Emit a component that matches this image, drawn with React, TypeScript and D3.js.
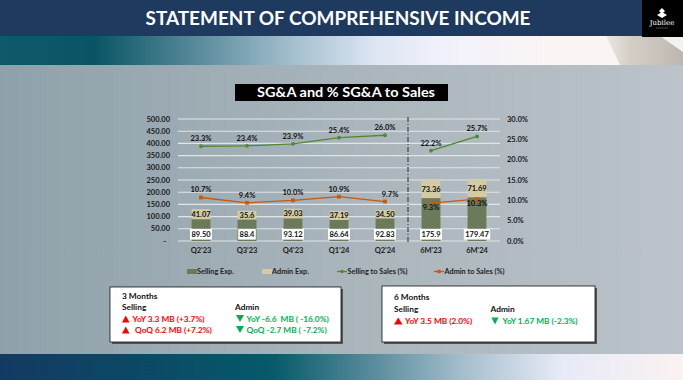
import React from "react";
import * as d3 from "d3";

const categories = ["Q2'23", "Q3'23", "Q4'23", "Q1'24", "Q2'24", "6M'23", "6M'24"];
const sellingExp = [89.5, 88.4, 93.12, 86.64, 92.83, 175.9, 179.47];
const sellingLabels = ["89.50", "88.4", "93.12", "86.64", "92.83", "175.9", "179.47"];
const adminExp = [41.07, 35.6, 39.03, 37.19, 34.5, 73.36, 71.69];
const adminLabels = ["41.07", "35.6", "39.03", "37.19", "34.50", "73.36", "71.69"];
const sellingPct = [23.3, 23.4, 23.9, 25.4, 26.0, 22.2, 25.7];
const adminPct = [10.7, 9.4, 10.0, 10.9, 9.7, 9.3, 10.3];
const lineSegments = [[0, 1, 2, 3, 4], [5, 6]];
const leftTicks = [0, 50, 100, 150, 200, 250, 300, 350, 400, 450, 500];
const rightTicks = [0, 5, 10, 15, 20, 25, 30];
const legendItems = ["Selling Exp.", "Admin Exp.", "Selling to Sales (%)", "Admin to Sales (%)"];

const C_SELL = "#6b7b5a";
const C_ADMIN = "#d3cca2";
const C_GLINE = "#4f8a2c";
const C_OLINE = "#c55a11";
const FONT = "Lato, 'Open Sans', sans-serif";

export default function App() {
  const x = d3.scaleBand<string>().domain(categories).range([178, 500]).paddingInner(0.59).paddingOuter(0.295);
  const y = d3.scaleLinear().domain([0, 500]).range([241, 119]);
  const yr = d3.scaleLinear().domain([0, 30]).range([241, 119]);
  const cx = (i: number) => (x(categories[i]) as number) + x.bandwidth() / 2;
  const line = d3.line<number>().x((i) => cx(i)).y((i) => yr(0) - 0);

  const gLine = d3.line<number>().x((i) => cx(i)).y((i) => yr(sellingPct[i]));
  const oLine = d3.line<number>().x((i) => cx(i)).y((i) => yr(adminPct[i]));
  void line;

  const dashX = (cx(4) + cx(5)) / 2;

  return (
    <svg width={683} height={380} style={{ position: "absolute", left: 0, top: 0 }} fontFamily={FONT}>
      <defs>
        <linearGradient id="bg" x1="0" x2="1" y1="0" y2="0">
          <stop offset="0" stopColor="#8ea1aa" />
          <stop offset="0.5" stopColor="#a9b4bb" />
          <stop offset="1" stopColor="#bcc3ca" />
        </linearGradient>
        <linearGradient id="band1" x1="0" x2="1" y1="0" y2="0">
          <stop offset="0" stopColor="#0e5a6a" />
          <stop offset="0.14" stopColor="#0a5565" />
          <stop offset="0.3" stopColor="#5f8f9f" />
          <stop offset="0.42" stopColor="#9fbccb" />
          <stop offset="0.55" stopColor="#dde6f3" />
          <stop offset="0.65" stopColor="#f1f1fb" />
          <stop offset="0.8" stopColor="#fbf5f5" />
          <stop offset="1" stopColor="#faf6f4" />
        </linearGradient>
        <linearGradient id="curl" x1="0" x2="1" y1="0" y2="0">
          <stop offset="0" stopColor="#ece8e4" />
          <stop offset="0.3" stopColor="#d6cfc8" />
          <stop offset="0.7" stopColor="#c9c2bb" />
          <stop offset="1" stopColor="#bdb6b0" />
        </linearGradient>
        <linearGradient id="band2" x1="0" x2="1" y1="0" y2="0">
          <stop offset="0" stopColor="#143a62" />
          <stop offset="0.2" stopColor="#0c4866" />
          <stop offset="0.4" stopColor="#065a6a" />
          <stop offset="0.55" stopColor="#5c8d9e" />
          <stop offset="0.68" stopColor="#a6bfcd" />
          <stop offset="0.82" stopColor="#e6eaf7" />
          <stop offset="1" stopColor="#fbf2f2" />
        </linearGradient>
      </defs>

      {/* background */}
      <rect x={0} y={0} width={683} height={380} fill="url(#bg)" />
      <rect x={0} y={36} width={683} height={29} fill="url(#band1)" />
      <polygon points="606,36 683,36 683,65 620,65" fill="url(#curl)" />
      <polygon points="660,36 683,36 683,52" fill="#f4f2f0" />
      <rect x={0} y={354} width={683} height={26} fill="url(#band2)" />

      {/* header */}
      <rect x={0} y={0} width={683} height={36} fill="#1f3a5f" />
      <rect x={642} y={0} width={41} height={37} fill="#000" />
      <path d="M659,11 L662,8 L665,11 L662,14 Z M657,15 L662,12 L667,15 L662,18 Z" fill="#fff" />
      <text x={662} y={25} textAnchor="middle" fill="#fff" fontSize={7} fontFamily="'DejaVu Serif', serif">Jubilee</text>
      <line x1={656} x2={668} y1={28} y2={28} stroke="#888" strokeWidth={0.5} />
      <text x={338} y={25} textAnchor="middle" fill="#fff" fontSize={19.5} fontWeight={700} textLength={385} lengthAdjust="spacingAndGlyphs" fontFamily="Lato, sans-serif">
        STATEMENT OF COMPREHENSIVE INCOME
      </text>

      {/* chart title */}
      <rect x={235} y={84} width={213} height={17} fill="#000" />
      <text x={346} y={96.7} textAnchor="middle" fill="#fff" fontSize={13} fontWeight={700} textLength={178} lengthAdjust="spacingAndGlyphs">
        SG&amp;A and % SG&amp;A to Sales
      </text>

      {/* gridlines */}
      {leftTicks.map((t) => (
        <line key={"g" + t} x1={178} x2={500} y1={y(t)} y2={y(t)} stroke="#dfe5e8" strokeWidth={1.1} />
      ))}
      {/* left ticks */}
      {leftTicks.map((t) => (
        <text key={"l" + t} x={t === 0 ? 166 : 170} y={y(t) + 2.6} textAnchor="end" fontSize={7.5} fontWeight={700} fill="#1a1a1a">
          {t === 0 ? "-" : t.toFixed(2)}
        </text>
      ))}
      {/* right ticks */}
      {rightTicks.map((t) => (
        <text key={"r" + t} x={507} y={yr(t) + 2.6} textAnchor="start" fontSize={7.5} fontWeight={700} fill="#1a1a1a">
          {t.toFixed(1) + "%"}
        </text>
      ))}

      {/* bars */}
      {categories.map((c, i) => (
        <g key={"b" + c}>
          <rect x={x(c)} width={x.bandwidth()} y={y(sellingExp[i])} height={y(0) - y(sellingExp[i])} fill={C_SELL} />
          <rect x={x(c)} width={x.bandwidth()} y={y(sellingExp[i] + adminExp[i])} height={y(sellingExp[i]) - y(sellingExp[i] + adminExp[i])} fill={C_ADMIN} />
        </g>
      ))}

      {/* dashed separator */}
      <line x1={dashX} x2={dashX} y1={117} y2={242} stroke="#2a2a2a" strokeWidth={1} strokeDasharray="5 2 1 2" />

      {/* lines */}
      {lineSegments.map((seg, k) => (
        <g key={"ln" + k}>
          <path d={gLine(seg) as string} fill="none" stroke={C_GLINE} strokeWidth={1.3} />
          <path d={oLine(seg) as string} fill="none" stroke={C_OLINE} strokeWidth={1.3} />
        </g>
      ))}
      {categories.map((c, i) => (
        <g key={"m" + c}>
          <circle cx={cx(i)} cy={yr(sellingPct[i])} r={1.9} fill={C_GLINE} />
          <rect x={cx(i) - 1.9} y={yr(adminPct[i]) - 1.9} width={3.8} height={3.8} fill={C_OLINE} />
        </g>
      ))}

      {/* bar labels */}
      {categories.map((c, i) => {
        const w = sellingLabels[i].length * 4.4;
        const top = y(sellingExp[i] + adminExp[i]);
        const mid = (top + y(sellingExp[i])) / 2;
        return (
          <g key={"lb" + c}>
            <rect x={cx(i) - w / 2} y={228.8} width={w} height={10.8} fill="#fff" />
            <text x={cx(i)} y={237} textAnchor="middle" fontSize={7.5} fontWeight={700} fill="#111">
              {sellingLabels[i]}
            </text>
            <text x={cx(i)} y={mid + 2.7} textAnchor="middle" fontSize={7.5} fontWeight={700} fill="#111">
              {adminLabels[i]}
            </text>
          </g>
        );
      })}

      {/* percent labels */}
      {categories.map((c, i) => {
        const below = i >= 5;
        const ox = i === 4 ? 5 : 0;
        const oy = below ? 7 : i === 4 ? -6 : -6;
        return (
          <g key={"pl" + c}>
            <text x={cx(i)} y={yr(sellingPct[i]) - 5} textAnchor="middle" fontSize={7.5} fontWeight={700} fill="#111">
              {sellingPct[i].toFixed(1) + "%"}
            </text>
            <text x={cx(i) + ox} y={yr(adminPct[i]) + oy + (below ? 0 : 1)} textAnchor="middle" fontSize={7.5} fontWeight={700} fill="#111">
              {adminPct[i].toFixed(1) + "%"}
            </text>
          </g>
        );
      })}

      {/* x labels */}
      {categories.map((c, i) => (
        <text key={"x" + c} x={cx(i)} y={253} textAnchor="middle" fontSize={7.5} fontWeight={700} fill="#222">
          {c}
        </text>
      ))}

      {/* legend */}
      <g fontSize={7.3} fontWeight={700} fill="#222">
        <rect x={187} y={269} width={10} height={5} fill={C_SELL} />
        <text x={197} y={274}>{legendItems[0]}</text>
        <rect x={262} y={269} width={10} height={5} fill={C_ADMIN} />
        <text x={272} y={274}>{legendItems[1]}</text>
        <line x1={337} x2={347} y1={271.5} y2={271.5} stroke={C_GLINE} strokeWidth={1.3} />
        <circle cx={342} cy={271.5} r={1.8} fill={C_GLINE} />
        <text x={347.5} y={274}>{legendItems[2]}</text>
        <line x1={434} x2={444} y1={271.5} y2={271.5} stroke={C_OLINE} strokeWidth={1.3} />
        <rect x={437.3} y={269.8} width={3.4} height={3.4} fill={C_OLINE} />
        <text x={444.5} y={274}>{legendItems[3]}</text>
      </g>

      {/* summary boxes */}
      <rect x={112} y={289} width={231} height={55} fill="#555" />
      <rect x={110} y={287} width={231} height={55} fill="#fff" stroke="#111" strokeWidth={0.8} />
      <rect x={384} y={288} width={213} height={56} fill="#555" />
      <rect x={382} y={286} width={213} height={56} fill="#fff" stroke="#111" strokeWidth={0.8} />

      <g fontSize={8.3} fontWeight={700}>
        <text x={122} y={298.5} fill="#111">3 Months</text>
        <text x={122} y={309.5} fill="#111">Selling</text>
        <text x={235} y={309.5} fill="#111">Admin</text>
        <path d="M122,322.5 L129.5,322.5 L125.75,315.5 Z" fill="#ff0000" />
        <text x={132.5} y={322} fill="#ff0000">YoY 3.3 MB (+3.7%)</text>
        <path d="M122,333.5 L129.5,333.5 L125.75,326.5 Z" fill="#ff0000" />
        <text x={135} y={333} fill="#ff0000">QoQ 6.2 MB (+7.2%)</text>
        <path d="M236,315 L244,315 L240,322 Z" fill="#00b050" />
        <text x={246.5} y={322} fill="#00b050" style={{ whiteSpace: "pre" }}>YoY -6.6  MB ( -16.0%)</text>
        <path d="M236,326 L244,326 L240,333 Z" fill="#00b050" />
        <text x={246.5} y={333} fill="#00b050" style={{ whiteSpace: "pre" }}>QoQ -2.7 MB ( -7.2%)</text>

        <text x={394} y={299.5} fill="#111">6 Months</text>
        <text x={394} y={311.5} fill="#111">Selling</text>
        <text x={490.5} y={311.5} fill="#111">Admin</text>
        <path d="M394,324.5 L402.5,324.5 L398.25,317.5 Z" fill="#ff0000" />
        <text x={405} y={324} fill="#ff0000">YoY 3.5 MB (2.0%)</text>
        <path d="M491.5,317.5 L498.5,317.5 L495,324.5 Z" fill="#00b050" />
        <text x={502.5} y={324} fill="#00b050">YoY 1.67 MB (-2.3%)</text>
      </g>
    </svg>
  );
}
